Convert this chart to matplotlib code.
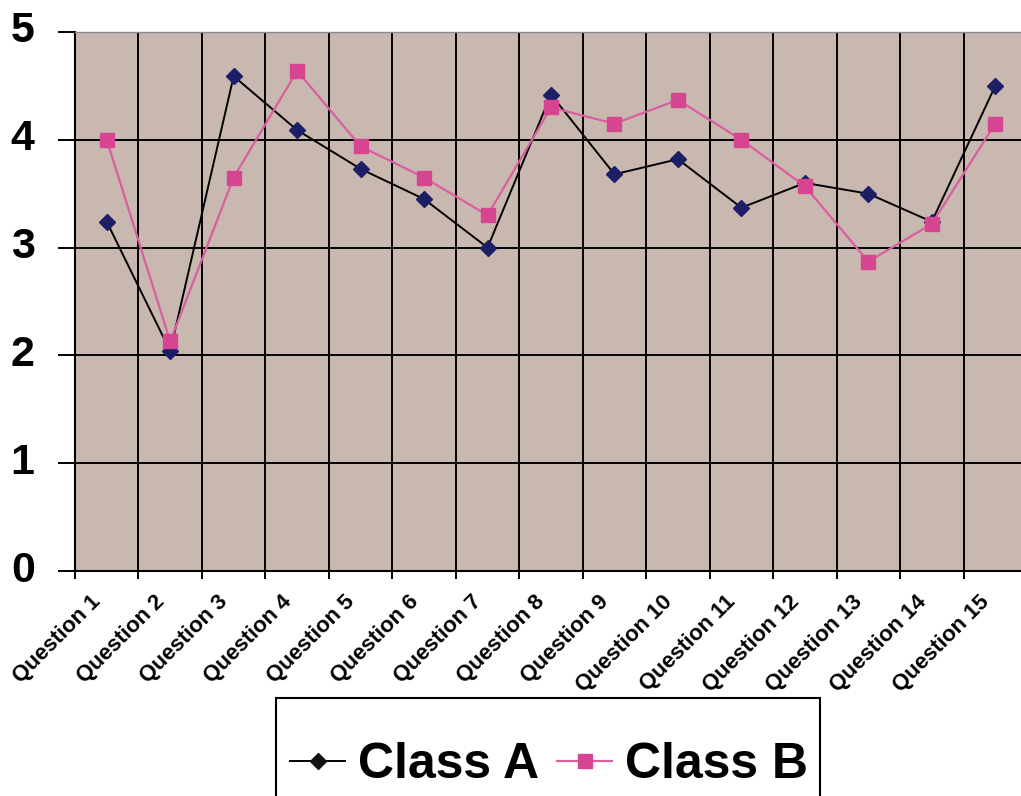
import numpy as np
import matplotlib.pyplot as plt
import matplotlib.transforms as mtransforms
from matplotlib.patches import Rectangle

questions = ['Question %d' % i for i in range(1, 16)]
class_a = [3.24, 2.04, 4.59, 4.09, 3.73, 3.45, 3.0, 4.42, 3.68, 3.82, 3.37, 3.6, 3.5, 3.24, 4.5]
class_b = [4.0, 2.13, 3.65, 4.64, 3.94, 3.65, 3.3, 4.3, 4.15, 4.37, 4.0, 3.57, 2.87, 3.22, 4.15]
yticks = [0, 1, 2, 3, 4, 5]

plt.rcParams['font.family'] = ['Liberation Sans', 'DejaVu Sans']

fig = plt.figure(figsize=(10.21, 7.96), dpi=100)
# plot area runs past the right edge of the picture, as in the scan
ax = fig.add_axes([75/1021, 1-571/796, 952/1021, 539/796])
ax.set_facecolor('#c9b8b0')

x = np.arange(len(questions)) + 0.5
ax.plot(x, class_a, color='black', lw=1.4, marker='D', ms=8.5,
        mfc='#1c1f66', mec='#1c1f66', label='Class A', zorder=3)
ax.plot(x, class_b, color='#d95fa0', lw=1.6, marker='s', ms=9.5,
        mfc='#d64592', mec='#d64592', label='Class B', zorder=3)

ax.set_xlim(0, 15)
ax.set_ylim(0, 5)
ax.set_yticks(yticks)
ax.set_yticklabels([str(v) for v in yticks], fontsize=31, fontweight='bold')
ax.set_xticks(np.arange(0, 16))
ax.set_xticklabels([])
ax.set_xticks(x, minor=True)
ax.set_xticklabels(questions, minor=True, rotation=45, ha='right', va='center',
                   rotation_mode='anchor', fontsize=16, fontweight='bold')
ax.tick_params(axis='x', which='minor', length=0, pad=20)
ax.tick_params(axis='x', which='major', length=6, width=1.4, color='black')
ax.tick_params(axis='y', length=12, width=1.4, color='black', pad=17)

# nudge labels after tick_params (it resets the transforms)
xshift = mtransforms.ScaledTranslation(-9/100, 0, fig.dpi_scale_trans)
for lbl in ax.get_xticklabels(minor=True):
    lbl.set_transform(lbl.get_transform() + xshift)
yshift = mtransforms.ScaledTranslation(0, 5/100, fig.dpi_scale_trans)
for lbl in ax.get_yticklabels():
    lbl.set_transform(lbl.get_transform() + yshift)

ax.grid(True, which='major', color='black', lw=1.4)
ax.set_axisbelow(True)
ax.spines['left'].set_linewidth(1.5)
ax.spines['bottom'].set_linewidth(1.5)
ax.spines['top'].set_color('#8a8a8a')
ax.spines['top'].set_linewidth(1)
ax.spines['right'].set_visible(False)

# legend box runs off the bottom of the picture
fig.patches.append(Rectangle((276/1021, -0.05), (820-276)/1021, 0.05 + (796-698)/796,
                             transform=fig.transFigure, fill=False,
                             edgecolor='black', lw=1.5))
leg = fig.legend(loc='center left', bbox_to_anchor=(290/1021, 1-765/796), ncol=2,
                 prop={'family': 'Liberation Sans', 'weight': 'bold', 'size': 36},
                 frameon=False, handlelength=1.1, handletextpad=0.26,
                 columnspacing=0.36, borderpad=0, borderaxespad=0)
leg.legend_handles[0].set_markerfacecolor('#111111')
leg.legend_handles[0].set_markeredgecolor('#111111')

fig.savefig('out.png', dpi=100)
